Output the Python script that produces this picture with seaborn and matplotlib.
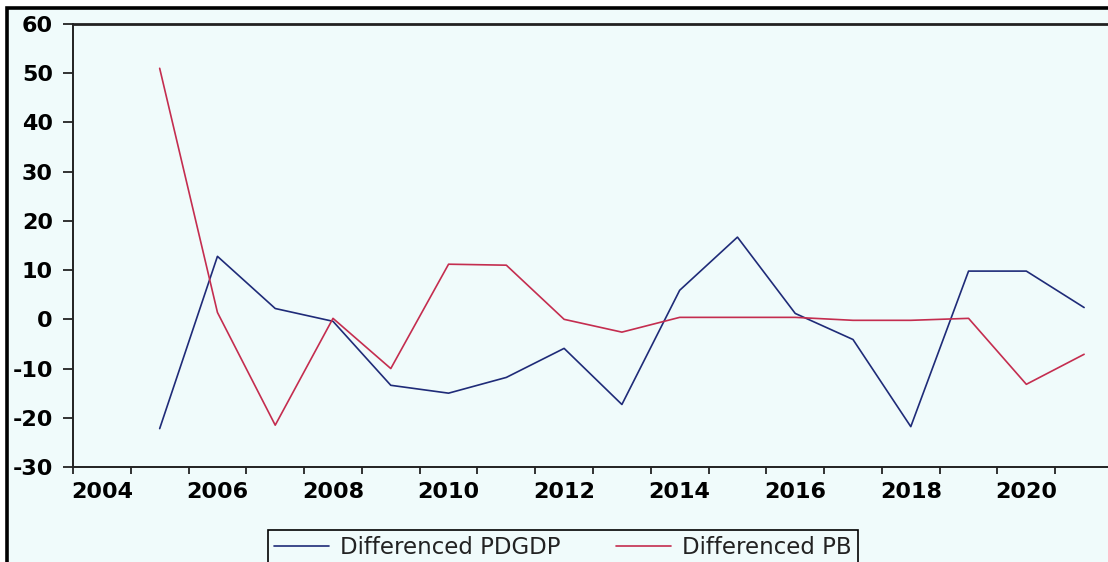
import pandas as pd
import matplotlib
matplotlib.use("Agg")
import matplotlib.pyplot as plt
from matplotlib.patches import Rectangle
import seaborn as sns

years = list(range(2005, 2022))
pdgdp = [-22.2, 12.8, 2.2, -0.4, -13.4, -15.0, -11.8, -5.9, -17.3,
         5.9, 16.7, 1.2, -4.1, -21.8, 9.8, 9.8, 2.4]
pb = [51.0, 1.4, -21.5, 0.2, -10.0, 11.2, 11.0, 0.0, -2.6,
      0.4, 0.4, 0.4, -0.2, -0.2, 0.2, -13.2, -7.1]
series_names = ["Differenced PDGDP", "Differenced PB"]
label_years = list(range(2004, 2021, 2))
y_ticks = list(range(-30, 61, 10))

BG = "#f0fbfb"
COLORS = ["#1f2b78", "#c42d4f"]

# long-form frame; annual points sit in the middle of each year
df = pd.concat([
    pd.DataFrame({"x": [y + 0.5 for y in years], "value": pdgdp, "series": series_names[0]}),
    pd.DataFrame({"x": [y + 0.5 for y in years], "value": pb, "series": series_names[1]}),
])

sns.set_style("ticks")
plt.rcParams["font.family"] = ["DejaVu Sans"]
plt.rcParams["axes.unicode_minus"] = False

W, H = 1108, 562
fig = plt.figure(figsize=(W / 100, H / 100), dpi=100, facecolor="white")

# outer frame (EViews-style window border, cut by the image edge)
border = Rectangle((7.0 / W, -0.2), 1.3, (H - 8.5) / H + 0.2, transform=fig.transFigure,
                   facecolor=BG, edgecolor="black", linewidth=2.6, zorder=-5)
fig.add_artist(border)

ax = fig.add_axes([73 / W, (H - 467) / H, (1113 - 73) / W, (467 - 24) / H])
ax.set_facecolor(BG)

sns.lineplot(data=df, x="x", y="value", hue="series", palette=COLORS,
             linewidth=1.2, ax=ax, legend=False, sort=False)

ax.set_xlim(2004, 2022)
ax.set_ylim(-30, 60)
ax.set_xlabel("")
ax.set_ylabel("")

# year boundaries get ticks, labels sit in the middle of even years
ax.set_xticks(list(range(2004, 2023)))
ax.set_xticklabels([])
ax.set_xticks([y + 0.5 for y in label_years], minor=True)
ax.set_xticklabels([str(y) for y in label_years], minor=True)
ax.tick_params(axis="x", which="major", direction="out", length=5, width=1.3, color="#222222")
ax.tick_params(axis="x", which="minor", length=0, pad=11)

ax.set_yticks(y_ticks)
ax.set_yticklabels([str(v) for v in y_ticks])
ax.tick_params(axis="y", direction="out", length=7.5, width=1.3, pad=7, color="#222222")

for lbl in ax.get_xticklabels(minor=True) + ax.get_yticklabels():
    lbl.set_fontweight("bold")
    lbl.set_fontsize(16)
    lbl.set_color("black")

for side in ["left", "bottom", "top", "right"]:
    ax.spines[side].set_visible(True)
    ax.spines[side].set_linewidth(1.4)
    ax.spines[side].set_color("#222222")
ax.spines["top"].set_linewidth(2.0)

handles = [plt.Line2D([], [], color=c, linewidth=1.2) for c in COLORS]
leg = fig.legend(handles, series_names, loc="upper left", ncol=2,
                 bbox_to_anchor=(268 / W, (H - 530) / H), borderaxespad=0,
                 frameon=True, fancybox=False, prop={"size": 16.5},
                 handlelength=2.4, handletextpad=0.5, columnspacing=2.4,
                 borderpad=0.25)
leg.get_frame().set_edgecolor("black")
leg.get_frame().set_linewidth(1.2)
leg.get_frame().set_facecolor(BG)
leg.get_frame().set_alpha(1)
for t in leg.get_texts():
    t.set_color("#222222")

fig.savefig("out.png", dpi=100, facecolor="white")
